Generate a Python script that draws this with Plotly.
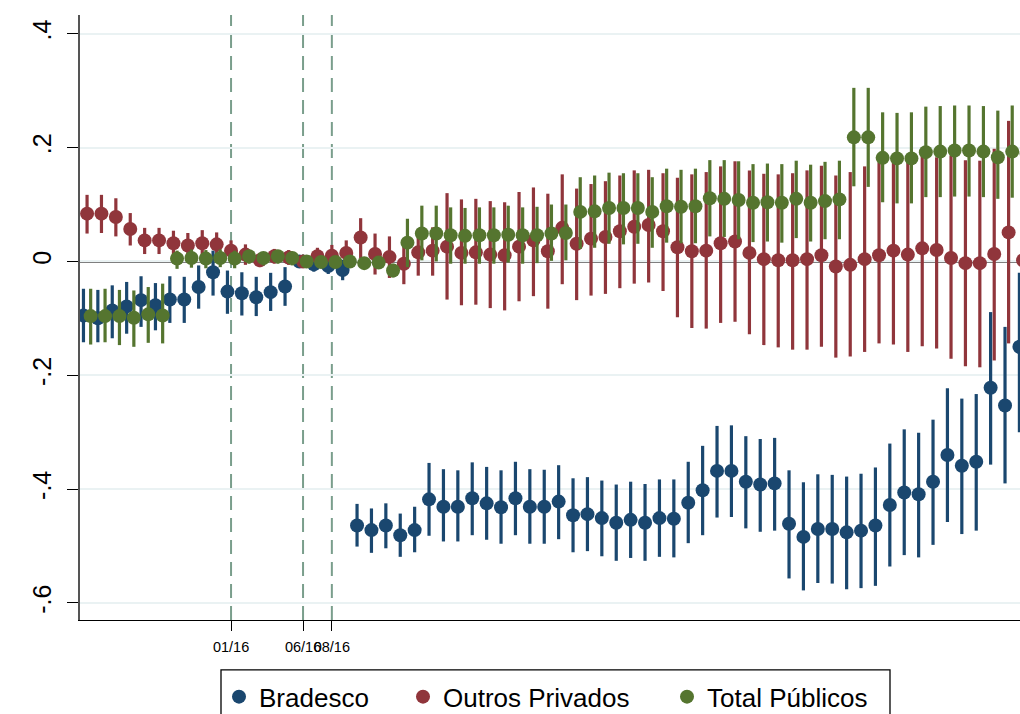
import plotly.graph_objects as go

# Month index relative to 01/2016 (0 = 01/16)
months = list(range(-10, 56))

# Bradesco
brad = [-0.095, -0.100, -0.086, -0.079, -0.068, -0.077, -0.067, -0.067, -0.045, -0.019,
        -0.053, -0.056, -0.063, -0.054, -0.044, 0.000, -0.005, -0.008, -0.015,
        -0.464, -0.472, -0.464, -0.481, -0.472, -0.418, -0.431, -0.431, -0.416, -0.425,
        -0.432, -0.416, -0.431, -0.431, -0.422, -0.446, -0.444, -0.451, -0.459, -0.454,
        -0.459, -0.451, -0.452, -0.424, -0.402, -0.368, -0.368, -0.387, -0.392, -0.390,
        -0.461, -0.484, -0.470, -0.470, -0.476, -0.473, -0.464, -0.428, -0.406, -0.409,
        -0.387, -0.340, -0.359, -0.352, -0.222, -0.253, -0.150]
brad_lo = [-0.142, -0.142, -0.135, -0.127, -0.115, -0.121, -0.108, -0.108, -0.083, -0.060,
           -0.092, -0.095, -0.096, -0.087, -0.078, 0.000, -0.018, -0.022, -0.033,
           -0.501, -0.512, -0.504, -0.519, -0.511, -0.482, -0.492, -0.492, -0.481, -0.489,
           -0.496, -0.481, -0.496, -0.496, -0.488, -0.511, -0.509, -0.518, -0.526, -0.521,
           -0.526, -0.519, -0.520, -0.495, -0.481, -0.450, -0.449, -0.469, -0.475, -0.473,
           -0.557, -0.578, -0.565, -0.566, -0.576, -0.574, -0.570, -0.536, -0.516, -0.520,
           -0.498, -0.458, -0.479, -0.473, -0.357, -0.390, -0.300]
brad_hi = [-0.048, -0.050, -0.042, -0.036, -0.026, -0.038, -0.026, -0.027, -0.007, 0.019,
           -0.016, -0.019, -0.027, -0.020, -0.010, 0.000, 0.008, 0.006, 0.003,
           -0.426, -0.434, -0.425, -0.443, -0.431, -0.354, -0.365, -0.367, -0.353, -0.361,
           -0.367, -0.352, -0.365, -0.366, -0.358, -0.381, -0.379, -0.385, -0.392, -0.387,
           -0.391, -0.383, -0.383, -0.352, -0.324, -0.289, -0.288, -0.307, -0.312, -0.310,
           -0.367, -0.388, -0.374, -0.375, -0.378, -0.373, -0.362, -0.320, -0.295, -0.301,
           -0.278, -0.223, -0.241, -0.233, -0.089, -0.115, -0.020]

# Outros Privados
outros = [0.084, 0.084, 0.078, 0.057, 0.037, 0.037, 0.032, 0.028, 0.032, 0.030,
          0.019, 0.012, 0.002, 0.009, 0.007, 0.000, 0.009, 0.010, 0.015,
          0.042, 0.013, 0.008, -0.004, 0.016, 0.019, 0.026, 0.015, 0.016, 0.012,
          0.011, 0.026, 0.037, 0.018, 0.059, 0.031, 0.040, 0.043, 0.053, 0.061,
          0.064, 0.053, 0.025, 0.018, 0.019, 0.032, 0.035, 0.015, 0.004, 0.002,
          0.002, 0.004, 0.011, -0.009, -0.006, 0.004, 0.011, 0.019, 0.012, 0.023,
          0.020, 0.006, -0.003, -0.003, 0.013, 0.051, 0.002]
outros_lo = [0.049, 0.050, 0.044, 0.028, 0.013, 0.013, 0.011, 0.006, 0.008, 0.009,
             0.002, -0.006, -0.010, -0.004, -0.006, 0.000, -0.006, -0.009, -0.007,
             0.005, -0.023, -0.029, -0.040, -0.025, -0.025, -0.067, -0.077, -0.076, -0.082,
             -0.086, -0.070, -0.061, -0.083, -0.040, -0.068, -0.060, -0.057, -0.047, -0.039,
             -0.037, -0.052, -0.098, -0.117, -0.118, -0.108, -0.106, -0.128, -0.147, -0.151,
             -0.155, -0.155, -0.150, -0.169, -0.167, -0.159, -0.144, -0.146, -0.159, -0.149,
             -0.153, -0.171, -0.184, -0.186, -0.174, -0.144, -0.296]
outros_hi = [0.117, 0.117, 0.111, 0.085, 0.059, 0.059, 0.054, 0.050, 0.055, 0.051,
             0.037, 0.030, 0.015, 0.022, 0.020, 0.000, 0.024, 0.029, 0.037,
             0.076, 0.049, 0.044, 0.030, 0.057, 0.060, 0.120, 0.109, 0.110, 0.106,
             0.104, 0.122, 0.130, 0.119, 0.153, 0.128, 0.136, 0.141, 0.151, 0.160,
             0.161, 0.155, 0.147, 0.153, 0.157, 0.167, 0.176, 0.160, 0.154, 0.153,
             0.155, 0.160, 0.168, 0.151, 0.157, 0.167, 0.174, 0.186, 0.177, 0.186,
             0.183, 0.186, 0.178, 0.177, 0.198, 0.247, 0.210]

# Total Públicos
publicos = [-0.096, -0.096, -0.096, -0.099, -0.093, -0.095, 0.005, 0.006, 0.005, 0.006,
            0.005, 0.009, 0.006, 0.009, 0.006, 0.000, -0.001, -0.001, 0.000,
            -0.003, -0.002, -0.016, 0.033, 0.049, 0.049, 0.046, 0.045, 0.046, 0.046,
            0.047, 0.046, 0.046, 0.049, 0.050, 0.087, 0.088, 0.094, 0.094, 0.094,
            0.087, 0.097, 0.096, 0.097, 0.111, 0.110, 0.108, 0.103, 0.104, 0.103,
            0.110, 0.103, 0.106, 0.109, 0.218, 0.218, 0.182, 0.181, 0.181, 0.192,
            0.193, 0.195, 0.195, 0.193, 0.183, 0.193, 0.190]
publicos_lo = [-0.146, -0.142, -0.147, -0.150, -0.143, -0.144, -0.013, -0.011, -0.012, -0.010,
               -0.012, -0.004, -0.007, -0.004, -0.007, 0.000, -0.010, -0.010, -0.009,
               -0.013, -0.012, -0.028, -0.010, 0.002, 0.000, -0.004, -0.004, -0.004, -0.004,
               -0.002, -0.004, -0.003, 0.001, 0.002, 0.022, 0.024, 0.031, 0.030, 0.031,
               0.024, 0.033, 0.032, 0.032, 0.044, 0.043, 0.039, 0.034, 0.035, 0.033,
               0.041, 0.035, 0.039, 0.039, 0.132, 0.131, 0.104, 0.102, 0.102, 0.113,
               0.113, 0.114, 0.114, 0.113, 0.110, 0.112, 0.110]
publicos_hi = [-0.048, -0.048, -0.050, -0.051, -0.045, -0.039, 0.019, 0.021, 0.020, 0.021,
               0.019, 0.019, 0.016, 0.019, 0.016, 0.000, 0.008, 0.008, 0.009,
               0.007, 0.008, -0.004, 0.075, 0.098, 0.098, 0.095, 0.094, 0.095, 0.095,
               0.098, 0.095, 0.096, 0.100, 0.100, 0.148, 0.151, 0.156, 0.155, 0.155,
               0.148, 0.163, 0.161, 0.163, 0.178, 0.178, 0.176, 0.171, 0.172, 0.171,
               0.177, 0.170, 0.175, 0.177, 0.305, 0.305, 0.262, 0.261, 0.262, 0.272,
               0.273, 0.274, 0.274, 0.273, 0.265, 0.274, 0.270]

tick_vals = [0, 5, 7]
tick_text = ["01/16", "06/16", "08/16"]
y_ticks = [0.4, 0.2, 0, -0.2, -0.4, -0.6]
y_text = [".4", ".2", "0", "-.2", "-.4", "-.6"]

series = [
    ("Bradesco", brad, brad_lo, brad_hi, "#1a476f", -0.25, "legend"),
    ("Outros Privados", outros, outros_lo, outros_hi, "#90353b", 0.0, "legend2"),
    ("Total Públicos", publicos, publicos_lo, publicos_hi, "#55752f", 0.25, "legend3"),
]

fig = go.Figure()
for name, v, lo, hi, col, off, leg in series:
    fig.add_trace(go.Scatter(
        x=[m + off for m in months], y=v, mode="markers", name=name, legend=leg,
        marker=dict(color=col, size=14, line=dict(width=0)),
        error_y=dict(type="data", symmetric=False,
                     array=[h - c for h, c in zip(hi, v)],
                     arrayminus=[c - l for c, l in zip(v, lo)],
                     color=col, thickness=3.2, width=0),
    ))

for tv in tick_vals:
    fig.add_shape(type="line", xref="x", yref="paper", x0=tv, x1=tv, y0=0, y1=1,
                  line=dict(color="#7a9e8c", width=2, dash="14px,8px"), layer="between")
fig.add_shape(type="line", xref="paper", yref="y", x0=0, x1=1, y0=0, y1=0,
              line=dict(color="black", width=2), layer="between")

# legend frame
fig.add_shape(type="rect", xref="paper", yref="paper", x0=0.15, x1=0.8617,
              y0=-0.0825, y1=-0.20, line=dict(color="black", width=1.3),
              fillcolor="rgba(0,0,0,0)")

leg_common = dict(orientation="h", yanchor="top", y=-0.088, xanchor="left",
                  font=dict(size=26), bgcolor="rgba(0,0,0,0)", borderwidth=0)

fig.update_layout(
    width=1020, height=714,
    margin=dict(l=80, r=0, t=15, b=94, autoexpand=False),
    paper_bgcolor="white", plot_bgcolor="white",
    font=dict(family="Liberation Sans, Arial, sans-serif", color="black"),
    showlegend=True,
    legend=dict(x=(219 - 80) / 940, **leg_common),
    legend2=dict(x=(403 - 80) / 940, **leg_common),
    legend3=dict(x=(667 - 80) / 940, **leg_common),
    xaxis=dict(range=[-10.49, 54.79], tickmode="array", tickvals=tick_vals,
               ticktext=tick_text, ticks="outside", ticklen=10, tickcolor="black",
               tickwidth=1.3, tickangle=0, tickfont=dict(size=14.5), showgrid=False,
               ticklabelstandoff=3,
               zeroline=False, showline=True, linecolor="black", linewidth=1.3),
    yaxis=dict(range=[-0.63, 0.433], tickmode="array", tickvals=y_ticks,
               ticktext=y_text, ticks="outside", ticklen=11, tickcolor="black",
               tickwidth=1.3, tickangle=-90, tickfont=dict(size=25),
               ticklabelstandoff=6,
               showgrid=True, gridcolor="#eaf2f3", gridwidth=2, zeroline=False,
               showline=True, linecolor="#555555", linewidth=1.5),
)

fig.write_html("out.html")
